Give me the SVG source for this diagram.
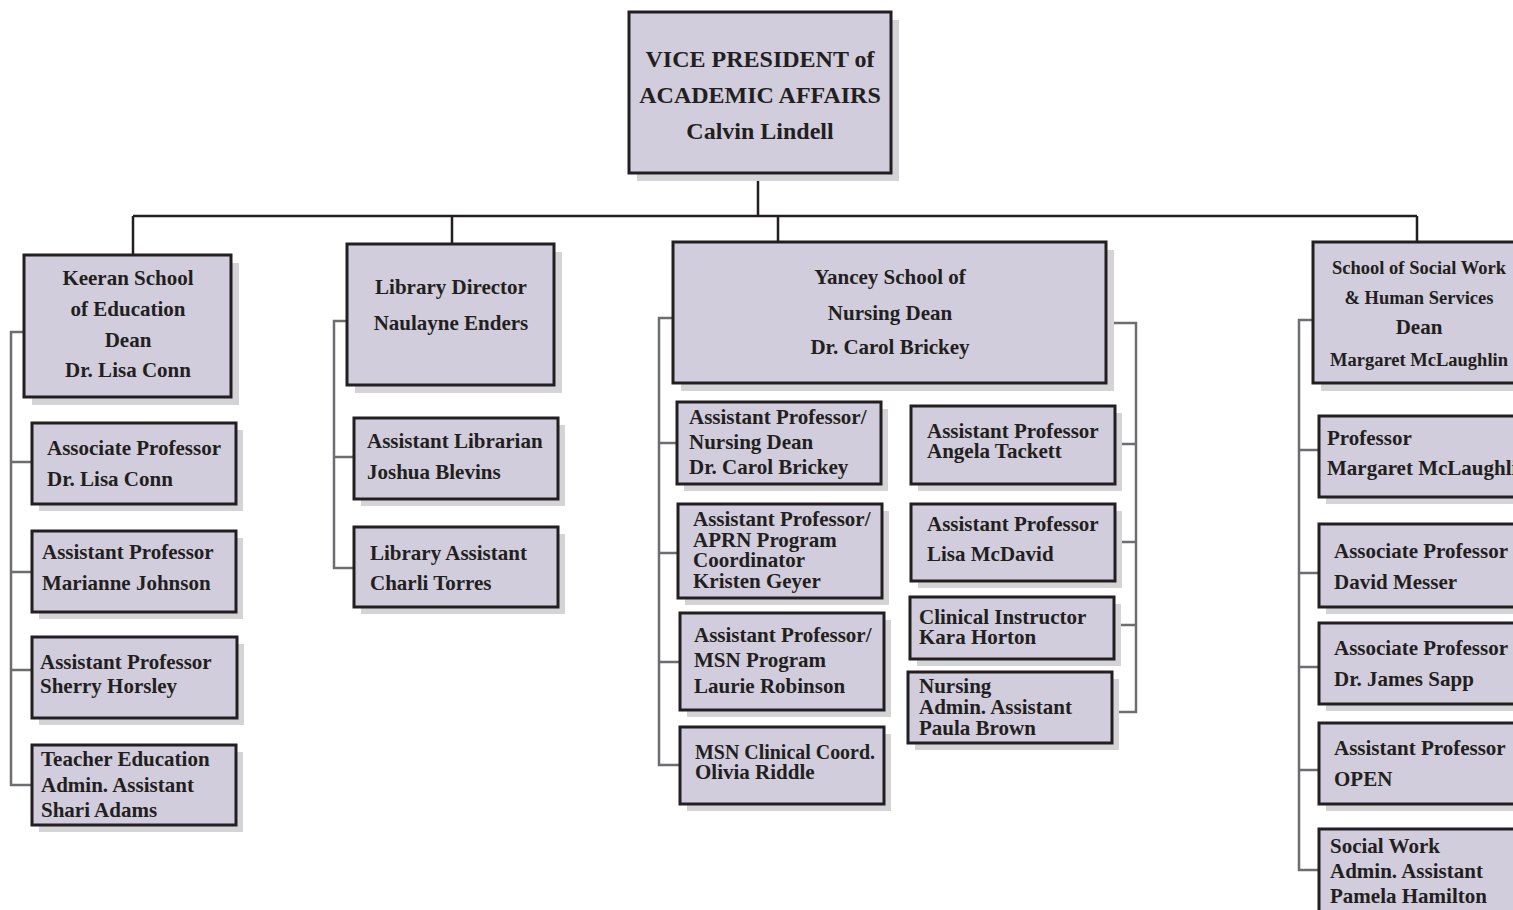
<svg xmlns="http://www.w3.org/2000/svg" width="1513" height="910" viewBox="0 0 1513 910">
<style>
.sh{fill:#d4d4d6}
.bx{fill:#d1cddc;stroke:#231f20;stroke-width:3}
.t{font-family:"Liberation Serif","Times New Roman",serif;font-weight:bold;font-size:21px;fill:#231f20}
.c{text-anchor:middle}
.s{font-size:18.5px}
.k{stroke:#231f20;stroke-width:2.5;fill:none}
.g{stroke:#6d6e71;stroke-width:2.5;fill:none}
</style>
<rect width="1513" height="910" fill="#ffffff"/>
<g id="connectors">
<path class="k" d="M758 173V216M133 216H1417M133 216V255M452 216V244M778 216V242M1417 216V242"/>
<path class="g" d="M24 332H11V785H32M11 462H32M11 572H32M11 670H32"/>
<path class="g" d="M347 321H334V568H354M334 457H354"/>
<path class="g" d="M673 318H659V765H680M659 443H677M659 553H678M659 662H680"/>
<path class="g" d="M1106 323H1136V712H1112M1115 444H1136M1115 542H1136M1114 625H1136"/>
<path class="g" d="M1313 320H1299V870H1319M1299 450H1319M1299 573H1319M1299 667H1319M1299 770H1319"/>
</g>
<g id="vp">
<rect class="sh" x="637" y="20" width="262" height="161"/>
<rect class="bx" x="629" y="12" width="262" height="161"/>
<text class="t c" x="760" style="font-size:24px"><tspan x="760" y="67">VICE PRESIDENT of</tspan><tspan x="760" y="103">ACADEMIC AFFAIRS</tspan><tspan x="760" y="139">Calvin Lindell</tspan></text>
</g>
<g id="keeran">
<rect class="sh" x="32" y="263" width="207" height="142"/>
<rect class="bx" x="24" y="255" width="207" height="142"/>
<text class="t c"><tspan x="128" y="285">Keeran School</tspan><tspan x="128" y="316">of Education</tspan><tspan x="128" y="347">Dean</tspan><tspan x="128" y="377">Dr. Lisa Conn</tspan></text>
</g>
<g id="edu-assoc">
<rect class="sh" x="39" y="430" width="204" height="81"/>
<rect class="bx" x="32" y="423" width="204" height="81"/>
<text class="t"><tspan x="47" y="455">Associate Professor</tspan><tspan x="47" y="486">Dr. Lisa Conn</tspan></text>
</g>
<g id="edu-johnson">
<rect class="sh" x="39" y="538" width="204" height="81"/>
<rect class="bx" x="32" y="531" width="204" height="81"/>
<text class="t"><tspan x="42" y="559">Assistant Professor</tspan><tspan x="42" y="590">Marianne Johnson</tspan></text>
</g>
<g id="edu-horsley">
<rect class="sh" x="39" y="644" width="205" height="81"/>
<rect class="bx" x="32" y="637" width="205" height="81"/>
<text class="t"><tspan x="40" y="669">Assistant Professor</tspan><tspan x="40" y="693">Sherry Horsley</tspan></text>
</g>
<g id="edu-admin">
<rect class="sh" x="39" y="752" width="204" height="80"/>
<rect class="bx" x="32" y="745" width="204" height="80"/>
<text class="t"><tspan x="41" y="766">Teacher Education</tspan><tspan x="41" y="792">Admin. Assistant</tspan><tspan x="41" y="817">Shari Adams</tspan></text>
</g>
<g id="library">
<rect class="sh" x="355" y="252" width="207" height="141"/>
<rect class="bx" x="347" y="244" width="207" height="141"/>
<text class="t c"><tspan x="451" y="294">Library Director</tspan><tspan x="451" y="330">Naulayne Enders</tspan></text>
</g>
<g id="lib-blevins">
<rect class="sh" x="361" y="425" width="204" height="81"/>
<rect class="bx" x="354" y="418" width="204" height="81"/>
<text class="t"><tspan x="367" y="448">Assistant Librarian</tspan><tspan x="367" y="479">Joshua Blevins</tspan></text>
</g>
<g id="lib-torres">
<rect class="sh" x="361" y="534" width="204" height="80"/>
<rect class="bx" x="354" y="527" width="204" height="80"/>
<text class="t"><tspan x="370" y="560">Library Assistant</tspan><tspan x="370" y="590">Charli Torres</tspan></text>
</g>
<g id="nursing">
<rect class="sh" x="681" y="250" width="433" height="141"/>
<rect class="bx" x="673" y="242" width="433" height="141"/>
<text class="t c"><tspan x="890" y="284">Yancey School of</tspan><tspan x="890" y="320">Nursing Dean</tspan><tspan x="890" y="354">Dr. Carol Brickey</tspan></text>
</g>
<g id="nur-brickey">
<rect class="sh" x="684" y="409" width="204" height="82"/>
<rect class="bx" x="677" y="402" width="204" height="82"/>
<text class="t"><tspan x="689" y="424">Assistant Professor/</tspan><tspan x="689" y="449">Nursing Dean</tspan><tspan x="689" y="474">Dr. Carol Brickey</tspan></text>
</g>
<g id="nur-geyer">
<rect class="sh" x="685" y="511" width="204" height="94"/>
<rect class="bx" x="678" y="504" width="204" height="94"/>
<text class="t"><tspan x="693" y="526">Assistant Professor/</tspan><tspan x="693" y="547">APRN Program</tspan><tspan x="693" y="567">Coordinator</tspan><tspan x="693" y="588">Kristen Geyer</tspan></text>
</g>
<g id="nur-robinson">
<rect class="sh" x="687" y="620" width="204" height="97"/>
<rect class="bx" x="680" y="613" width="204" height="97"/>
<text class="t"><tspan x="694" y="642">Assistant Professor/</tspan><tspan x="694" y="667">MSN Program</tspan><tspan x="694" y="693">Laurie Robinson</tspan></text>
</g>
<g id="nur-riddle">
<rect class="sh" x="687" y="734" width="204" height="77"/>
<rect class="bx" x="680" y="727" width="204" height="77"/>
<text class="t"><tspan x="695" y="759" textLength="180" lengthAdjust="spacingAndGlyphs">MSN Clinical Coord.</tspan><tspan x="695" y="779">Olivia Riddle</tspan></text>
</g>
<g id="nur-tackett">
<rect class="sh" x="918" y="413" width="204" height="78"/>
<rect class="bx" x="911" y="406" width="204" height="78"/>
<text class="t"><tspan x="927" y="438">Assistant Professor</tspan><tspan x="927" y="458">Angela Tackett</tspan></text>
</g>
<g id="nur-mcdavid">
<rect class="sh" x="918" y="511" width="204" height="77"/>
<rect class="bx" x="911" y="504" width="204" height="77"/>
<text class="t"><tspan x="927" y="531">Assistant Professor</tspan><tspan x="927" y="561">Lisa McDavid</tspan></text>
</g>
<g id="nur-horton">
<rect class="sh" x="917" y="604" width="204" height="62"/>
<rect class="bx" x="910" y="597" width="204" height="62"/>
<text class="t"><tspan x="919" y="624">Clinical Instructor</tspan><tspan x="919" y="644">Kara Horton</tspan></text>
</g>
<g id="nur-brown">
<rect class="sh" x="915" y="679" width="204" height="71"/>
<rect class="bx" x="908" y="672" width="204" height="71"/>
<text class="t"><tspan x="919" y="693">Nursing</tspan><tspan x="919" y="714">Admin. Assistant</tspan><tspan x="919" y="735">Paula Brown</tspan></text>
</g>
<g id="socialwork">
<rect class="sh" x="1321" y="250" width="220" height="141"/>
<rect class="bx" x="1313" y="242" width="220" height="141"/>
<text class="t c"><tspan class="s" x="1419" y="274">School of Social Work</tspan><tspan class="s" x="1419" y="304">&amp; Human Services</tspan><tspan x="1419" y="334">Dean</tspan><tspan class="s" x="1419" y="366">Margaret McLaughlin</tspan></text>
</g>
<g id="sw-mclaughlin">
<rect class="sh" x="1326" y="423" width="220" height="81"/>
<rect class="bx" x="1319" y="416" width="220" height="81"/>
<text class="t"><tspan x="1327" y="445">Professor</tspan><tspan x="1327" y="475">Margaret McLaughlin</tspan></text>
</g>
<g id="sw-messer">
<rect class="sh" x="1326" y="531" width="220" height="83"/>
<rect class="bx" x="1319" y="524" width="220" height="83"/>
<text class="t"><tspan x="1334" y="558">Associate Professor</tspan><tspan x="1334" y="589">David Messer</tspan></text>
</g>
<g id="sw-sapp">
<rect class="sh" x="1326" y="630" width="220" height="81"/>
<rect class="bx" x="1319" y="623" width="220" height="81"/>
<text class="t"><tspan x="1334" y="655">Associate Professor</tspan><tspan x="1334" y="686">Dr. James Sapp</tspan></text>
</g>
<g id="sw-open">
<rect class="sh" x="1326" y="730" width="220" height="81"/>
<rect class="bx" x="1319" y="723" width="220" height="81"/>
<text class="t"><tspan x="1334" y="755">Assistant Professor</tspan><tspan x="1334" y="786">OPEN</tspan></text>
</g>
<g id="sw-hamilton">
<rect class="sh" x="1326" y="836" width="220" height="90"/>
<rect class="bx" x="1319" y="829" width="220" height="90"/>
<text class="t"><tspan x="1330" y="853">Social Work</tspan><tspan x="1330" y="878">Admin. Assistant</tspan><tspan x="1330" y="903">Pamela Hamilton</tspan></text>
</g>
</svg>
